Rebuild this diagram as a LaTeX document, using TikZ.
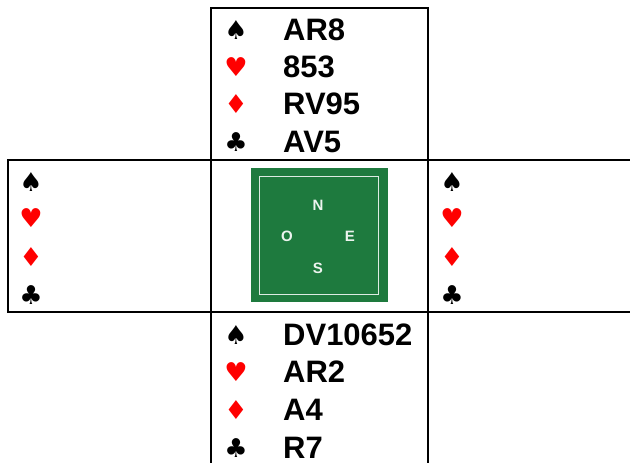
\documentclass[tikz,border=0pt]{standalone}
\usepackage{fontspec}
\newfontfamily\handfont{Liberation Sans}
\newfontfamily\suitfont{DejaVu Sans}
\usetikzlibrary{positioning}

\definecolor{felt}{RGB}{30,122,62}
\definecolor{suitred}{RGB}{255,0,0}

\begin{document}
\begin{tikzpicture}[x=1pt,y=-1pt,
  suit/.style={inner sep=0pt,font=\suitfont\fontsize{26}{26}\selectfont},
  cards/.style={inner sep=0pt,anchor=west,font=\handfont\bfseries\fontsize{31}{31}\selectfont},
  wind/.style={inner sep=0pt,text=white!92!felt,font=\handfont\bfseries\fontsize{15}{15}\selectfont},
  grid/.style={line width=2pt,black}]
\useasboundingbox (0,0) rectangle (630,463);

% frame of the diagram
\draw[grid] (211,463) -- (211,8) -- (428,8) -- (428,463);
\draw[grid] (630,160) -- (8,160) -- (8,312) -- (630,312);

% the table
\fill[felt] (251,168) rectangle (388,302);
\draw[white!85!felt,line width=1pt] (259,176) rectangle (378,294);
\node[wind] (tN) at (318,205) {N};
\node[wind] (tO) at (287,236) {O};
\node[wind] (tE) at (350,236) {E};
\node[wind] (tS) at (318,268) {S};

% north
\foreach \s/\m/\c/\y/\h in {S/♠/black/30/AR8, H/♥/suitred/67/853, D/♦/suitred/104/RV95, C/♣/black/142/AV5}{
  \node[suit,text=\c] (N\s) at (236,\y) {\m};
  \node[cards] (Nt\s) at (283,\y) {\h};
}
% south
\foreach \s/\m/\c/\y/\h in {S/♠/black/335/DV10652, H/♥/suitred/372/AR2, D/♦/suitred/410/A4, C/♣/black/448/R7}{
  \node[suit,text=\c] (S\s) at (236,\y) {\m};
  \node[cards] (St\s) at (283,\y) {\h};
}
% west and east
\foreach \s/\m/\c/\y in {S/♠/black/182, H/♥/suitred/218, D/♦/suitred/257, C/♣/black/295}{
  \node[suit,text=\c] (W\s) at (31,\y) {\m};
  \node[suit,text=\c] (E\s) at (452,\y) {\m};
}
\end{tikzpicture}
\end{document}
